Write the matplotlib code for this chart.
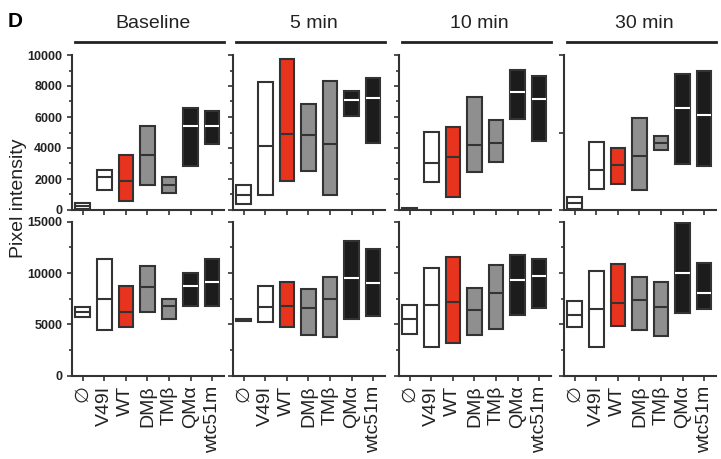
import matplotlib
matplotlib.use("Agg")
import matplotlib.pyplot as plt
from matplotlib.ticker import MultipleLocator, FixedLocator, NullLocator

plt.rcParams['font.family'] = ['Liberation Sans', 'DejaVu Sans']

# categories and time points
groups = ['\u2205', 'V49I', 'WT', 'DM\u03b2', 'TM\u03b2', 'QM\u03b1', 'wtc51m']
times = ['Baseline', '5 min', '10 min', '30 min']

# top row: min / median / max per time point (pixel intensity)
top_min = [
    [60, 1300, 600, 1600, 1100, 2850, 4250],
    [400, 1000, 1900, 2500, 950, 6050, 4350],
    [20, 1800, 850, 2450, 3100, 5850, 4450],
    [60, 1330, 1650, 1300, 3850, 2950, 2850],
]
top_med = [
    [240, 2100, 1850, 3550, 1600, 5400, 5400],
    [970, 4100, 4900, 4850, 4250, 7100, 7200],
    [80, 3000, 3400, 4200, 4300, 7600, 7150],
    [450, 2550, 2900, 3500, 4300, 6550, 6150],
]
top_max = [
    [420, 2600, 3550, 5450, 2100, 6550, 6400],
    [1600, 8250, 9750, 6850, 8350, 7700, 8500],
    [150, 5000, 5350, 7300, 5800, 9050, 8650],
    [820, 4400, 4000, 5950, 4750, 8750, 9000],
]

# bottom row
bot_min = [
    [5750, 4500, 4700, 6250, 5500, 6750, 6750],
    [5300, 5250, 4750, 3950, 3750, 5500, 5850],
    [4100, 2750, 3200, 4000, 4550, 5900, 6600],
    [4700, 2800, 4850, 4500, 3850, 6150, 6450],
]
bot_med = [
    [6200, 7450, 6200, 8600, 6800, 8750, 9150],
    [5420, 6700, 6800, 6550, 7450, 9500, 9050],
    [5500, 6900, 7200, 6400, 8100, 9300, 9750],
    [5950, 6450, 7100, 7350, 6650, 10050, 8100],
]
bot_max = [
    [6700, 11400, 8700, 10700, 7500, 10050, 11350],
    [5550, 8750, 9150, 8450, 9650, 13150, 12350],
    [6850, 10500, 11600, 8500, 10800, 11750, 11400],
    [7250, 10150, 10900, 9600, 9100, 14900, 11000],
]

fills = ['white', 'white', '#e8341e', '#8f8f8f', '#8f8f8f', '#1c1c1c', '#1c1c1c']
edge = '#333333'
bar_w = 0.68

fig = plt.figure(figsize=(7.21, 4.59), dpi=100)

lefts = [72, 233, 399, 564]
panel_w = 152 / 721
rows = [
    (1 - 210 / 459, 155 / 459, top_min, top_med, top_max, 10000),
    (1 - 375.7 / 459, 154 / 459, bot_min, bot_med, bot_max, 15000),
]

for r, (bottom, height, lo, med, hi, ymax) in enumerate(rows):
    for c in range(4):
        ax = fig.add_axes([lefts[c] / 721, bottom, panel_w, height])
        xs = range(len(groups))
        for i in xs:
            ax.bar(i, hi[c][i] - lo[c][i], bottom=lo[c][i], width=bar_w,
                   color=fills[i], edgecolor=edge, linewidth=1.5, zorder=2)
            mcol = 'white' if fills[i] == '#1c1c1c' else edge
            ax.hlines(med[c][i], i - bar_w / 2, i + bar_w / 2, color=mcol,
                      linewidth=1.5, zorder=3)

        ax.set_xlim(-0.5, 6.55)
        ax.set_ylim(0, ymax)
        for s in ['top', 'right']:
            ax.spines[s].set_visible(False)
        for s in ['left', 'bottom']:
            ax.spines[s].set_linewidth(1.5)
            ax.spines[s].set_color(edge)
        ax.set_xticks(list(xs))
        ax.tick_params(axis='both', which='major', length=3.5, width=1.2, color=edge)
        ax.tick_params(axis='y', which='minor', length=2.5, width=1.2, color=edge)

        if r == 0:
            if c == 3:
                ax.yaxis.set_major_locator(FixedLocator([0, 5000, 10000]))
                ax.yaxis.set_minor_locator(NullLocator())
            else:
                ax.yaxis.set_major_locator(MultipleLocator(2000))
                ax.yaxis.set_minor_locator(MultipleLocator(1000))
            ax.set_xticklabels([])
            # column titles with a rule beneath
            ax.plot([0.02, 1.0], [1.084, 1.084], transform=ax.transAxes,
                    color='#222222', linewidth=2, clip_on=False)
            ax.text(0.53, 1.2, times[c], transform=ax.transAxes, ha='center',
                    va='center', fontsize=14, color='#222222')
        else:
            ax.yaxis.set_major_locator(MultipleLocator(5000))
            ax.yaxis.set_minor_locator(MultipleLocator(2500))
            ax.set_xticklabels(groups, rotation=90, fontsize=14, color='#222222')

        if c == 0:
            for lab in ax.get_yticklabels():
                lab.set_fontweight('bold')
                lab.set_fontsize(9)
                lab.set_color('#222222')
        else:
            ax.set_yticklabels([])

fig.text(0.011, 1 - 27 / 459, 'D', fontsize=15, fontweight='bold', va='baseline')
fig.text(0.026, 0.568, 'Pixel intensity', rotation=90, ha='center', va='center',
         fontsize=14, color='#222222')

fig.savefig('out.png', dpi=100)
